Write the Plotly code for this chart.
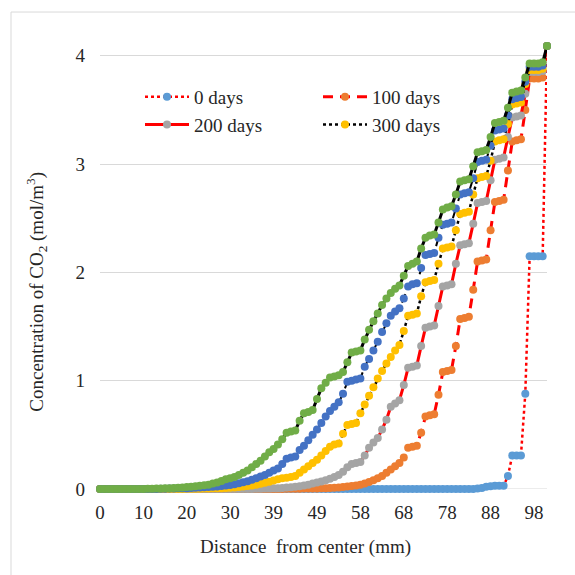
import plotly.graph_objects as go

# ---------------- data ----------------
# point index along the radial mesh (0 = centre, 103 = surface)
point_index = list(range(104))
tick_index = [0, 10, 20, 30, 40, 50, 60, 70, 80, 90, 100]
tick_labels = ["0", "10", "20", "30", "39", "49", "58", "68", "78", "88", "98"]

days_0 = [
    0, 0, 0, 0, 0, 0, 0, 0, 0, 0,
    0, 0, 0, 0, 0, 0, 0, 0, 0, 0,
    0, 0, 0, 0, 0, 0, 0, 0, 0, 0,
    0, 0, 0, 0, 0, 0, 0, 0, 0, 0,
    0, 0, 0, 0, 0, 0, 0, 0, 0, 0,
    0, 0, 0, 0, 0, 0, 0, 0, 0, 0,
    0, 0, 0, 0, 0, 0, 0, 0, 0, 0,
    0, 0, 0, 0, 0, 0, 0, 0, 0, 0,
    0, 0, 0, 0, 0, 0, 0, 0.005, 0.01, 0.02,
    0.025, 0.03, 0.03, 0.03, 0.12, 0.31, 0.31, 0.31, 0.88, 2.15,
    2.15, 2.15, 2.15, 4.09,
]
days_100 = [
    0, 0, 0, 0, 0, 0, 0, 0, 0, 0,
    0, 0, 0, 0, 0, 0, 0, 0, 0, 0,
    0, 0, 0, 0, 0, 0, 0, 0, 0, 0,
    0, 0, 0, 0, 0, 0, 0, 0, 0, 0,
    0, 0.001, 0.001, 0.002, 0.002, 0.003, 0.003, 0.004, 0.004, 0.005,
    0.005, 0.006, 0.008, 0.01, 0.012, 0.015, 0.018, 0.022, 0.027, 0.033,
    0.04, 0.05, 0.065, 0.08, 0.1, 0.12, 0.15, 0.18, 0.21, 0.24,
    0.29, 0.38, 0.39, 0.4, 0.52, 0.67, 0.68, 0.69, 0.87, 1.08,
    1.09, 1.1, 1.32, 1.57, 1.58, 1.59, 1.84, 2.1, 2.11, 2.12,
    2.39, 2.65, 2.66, 2.67, 2.94, 3.21, 3.22, 3.23, 3.5, 3.79,
    3.79, 3.79, 3.8, 4.09,
]
days_200 = [
    0, 0, 0, 0, 0, 0, 0, 0, 0, 0,
    0, 0, 0, 0, 0, 0, 0, 0, 0, 0,
    0, 0, 0, 0, 0, 0, 0, 0, 0, 0,
    0, 0, 0, 0, 0, 0, 0.002, 0.003, 0.004, 0.005,
    0.006, 0.008, 0.01, 0.013, 0.017, 0.021, 0.026, 0.032, 0.04, 0.05,
    0.06, 0.07, 0.08, 0.095, 0.11, 0.13, 0.16, 0.2, 0.23, 0.24,
    0.25, 0.31, 0.38, 0.43, 0.47, 0.55, 0.64, 0.76, 0.79, 0.82,
    0.96, 1.12, 1.13, 1.14, 1.32, 1.49, 1.5, 1.51, 1.69, 1.87,
    1.88, 1.89, 2.08, 2.25, 2.26, 2.27, 2.45, 2.64, 2.65, 2.66,
    2.85, 3.04, 3.05, 3.06, 3.25, 3.43, 3.44, 3.45, 3.65, 3.85,
    3.85, 3.85, 3.86, 4.09,
]
days_300 = [
    0, 0, 0, 0, 0, 0, 0, 0, 0, 0,
    0, 0, 0, 0, 0, 0, 0, 0, 0.001, 0.001,
    0.002, 0.002, 0.003, 0.003, 0.004, 0.005, 0.006, 0.007, 0.008, 0.01,
    0.012, 0.015, 0.018, 0.022, 0.027, 0.033, 0.04, 0.048, 0.057, 0.067,
    0.078, 0.09, 0.1, 0.105, 0.11, 0.12, 0.15, 0.18, 0.21, 0.24,
    0.27, 0.31, 0.35, 0.39, 0.41, 0.42, 0.51, 0.59, 0.6, 0.61,
    0.7, 0.78, 0.86, 0.94, 1.02, 1.09, 1.16, 1.22, 1.28, 1.33,
    1.46, 1.6, 1.61, 1.62, 1.78, 1.91, 1.92, 1.93, 2.08, 2.22,
    2.23, 2.24, 2.39, 2.54, 2.55, 2.56, 2.72, 2.87, 2.88, 2.89,
    3.03, 3.21, 3.22, 3.23, 3.37, 3.55, 3.56, 3.57, 3.74, 3.87,
    3.87, 3.87, 3.88, 4.09,
]
days_400 = [
    0, 0, 0, 0, 0, 0, 0, 0, 0, 0,
    0, 0, 0, 0.001, 0.002, 0.003, 0.004, 0.005, 0.006, 0.007,
    0.008, 0.01, 0.012, 0.014, 0.016, 0.018, 0.02, 0.023, 0.027, 0.032,
    0.038, 0.045, 0.053, 0.062, 0.072, 0.085, 0.1, 0.115, 0.13, 0.15,
    0.17, 0.19, 0.23, 0.28, 0.29, 0.3, 0.36, 0.4, 0.45, 0.5,
    0.55, 0.61, 0.67, 0.72, 0.76, 0.8, 0.88, 0.99, 1.0, 1.01,
    1.02, 1.13, 1.2, 1.28, 1.36, 1.45, 1.53, 1.6, 1.64, 1.67,
    1.76, 1.87, 1.89, 1.9, 2.04, 2.16, 2.17, 2.18, 2.32, 2.44,
    2.45, 2.46, 2.59, 2.72, 2.73, 2.74, 2.87, 3.02, 3.03, 3.04,
    3.17, 3.31, 3.32, 3.33, 3.45, 3.6, 3.61, 3.62, 3.76, 3.9,
    3.9, 3.9, 3.91, 4.09,
]
days_500 = [
    0, 0, 0, 0, 0, 0, 0, 0, 0, 0,
    0, 0.002, 0.003, 0.004, 0.005, 0.006, 0.008, 0.01, 0.012, 0.015,
    0.018, 0.021, 0.025, 0.03, 0.035, 0.04, 0.05, 0.06, 0.075, 0.09,
    0.1, 0.11, 0.13, 0.15, 0.17, 0.2, 0.23, 0.26, 0.3, 0.34,
    0.37, 0.41, 0.46, 0.52, 0.53, 0.54, 0.63, 0.7, 0.71, 0.73,
    0.83, 0.93, 0.98, 1.03, 1.04, 1.05, 1.08, 1.17, 1.26, 1.27,
    1.28, 1.38, 1.47, 1.55, 1.62, 1.7, 1.76, 1.81, 1.85, 1.88,
    1.97, 2.06, 2.08, 2.1, 2.22, 2.32, 2.34, 2.35, 2.46, 2.58,
    2.6, 2.61, 2.72, 2.84, 2.85, 2.86, 2.98, 3.11, 3.12, 3.13,
    3.25, 3.38, 3.39, 3.4, 3.52, 3.66, 3.67, 3.68, 3.8, 3.93,
    3.93, 3.93, 3.94, 4.09,
]

series_names = ["0 days", "100 days", "200 days", "300 days", "400 days", "500 days"]
series_values = [days_0, days_100, days_200, days_300, days_400, days_500]

# ---------------- styles ----------------
marker_colors = ["#5B9BD5", "#ED7D31", "#A5A5A5", "#FFC000", "#4472C4", "#70AD47"]
line_colors = ["#FF0000", "#FF0000", "#FF0000", "#000000", "#000000", "#000000"]
line_dashes = ["dot", "10px,7px", "solid", "dot", "dash", "solid"]
line_widths = [2.5, 3, 3, 2.5, 2, 3]
legend_ids = ["legend", "legend2", "legend", "legend2", None, None]

FONT = "Liberation Serif, Times New Roman, serif"
TXT = "#262626"
W = H = 575
L, R, T, B = 100, 28, 45, 85.5

fig = go.Figure()
for name, vals, mc, lc, ld, lw, lg in zip(series_names, series_values, marker_colors,
                                          line_colors, line_dashes, line_widths, legend_ids):
    tr = dict(x=point_index, y=vals, name=name, mode="lines+markers",
              marker=dict(color=mc, size=8, line=dict(width=0)),
              line=dict(color=lc, dash=ld, width=lw), cliponaxis=False)
    if lg is None:
        tr["showlegend"] = False
    else:
        tr["legend"] = lg
    fig.add_trace(go.Scatter(**tr))

pw = W - L - R
ph = H - T - B

def px_to_paper_x(px):
    return (px - L) / pw

def py_to_paper_y(py):
    return (H - B - py) / ph

fig.update_layout(
    width=W, height=H,
    margin=dict(l=L, r=R, t=T, b=B),
    paper_bgcolor="white", plot_bgcolor="white",
    font=dict(family=FONT, size=19, color=TXT),
    legend=dict(x=px_to_paper_x(140), y=py_to_paper_y(78), xanchor="left", yanchor="top",
                bgcolor="rgba(0,0,0,0)", itemwidth=44, font=dict(size=19),
                tracegroupgap=0, itemclick=False),
    legend2=dict(x=px_to_paper_x(318), y=py_to_paper_y(78), xanchor="left", yanchor="top",
                 bgcolor="rgba(0,0,0,0)", itemwidth=44, font=dict(size=19),
                 tracegroupgap=0, itemclick=False),
    xaxis=dict(range=[0, 103], tickmode="array", tickvals=tick_index, ticktext=tick_labels,
               showgrid=False, zeroline=False, showline=False, ticks="",
               ticklabelstandoff=10, tickfont=dict(size=19, color=TXT)),
    yaxis=dict(range=[0, 4.1], tickmode="array", tickvals=[0, 1, 2, 3, 4],
               showgrid=True, gridcolor="#D9D9D9", gridwidth=1, zeroline=False,
               showline=False, ticks="", ticklabelstandoff=14,
               tickfont=dict(size=19, color=TXT)),
    annotations=[
        dict(text="Distance  from center (mm)", xref="paper", yref="paper",
             x=px_to_paper_x(305), y=py_to_paper_y(548), xanchor="center", yanchor="middle",
             showarrow=False, font=dict(size=19, color=TXT)),
        dict(text="Concentration of CO<sub>2</sub> (mol/m<sup>3</sup>)", xref="paper", yref="paper",
             x=px_to_paper_x(37), y=py_to_paper_y(292), xanchor="center", yanchor="middle",
             textangle=-90, showarrow=False, font=dict(size=19, color=TXT)),
    ],
    shapes=[
        dict(type="rect", xref="paper", yref="paper",
             x0=px_to_paper_x(11), x1=px_to_paper_x(590),
             y0=py_to_paper_y(590), y1=py_to_paper_y(12),
             line=dict(color="#D9D9D9", width=1), layer="below"),
        dict(type="line", xref="paper", yref="y", x0=0, x1=1, y0=0, y1=0,
             line=dict(color="#D9D9D9", width=1), layer="below"),
    ],
)

fig.write_html("out.html")
